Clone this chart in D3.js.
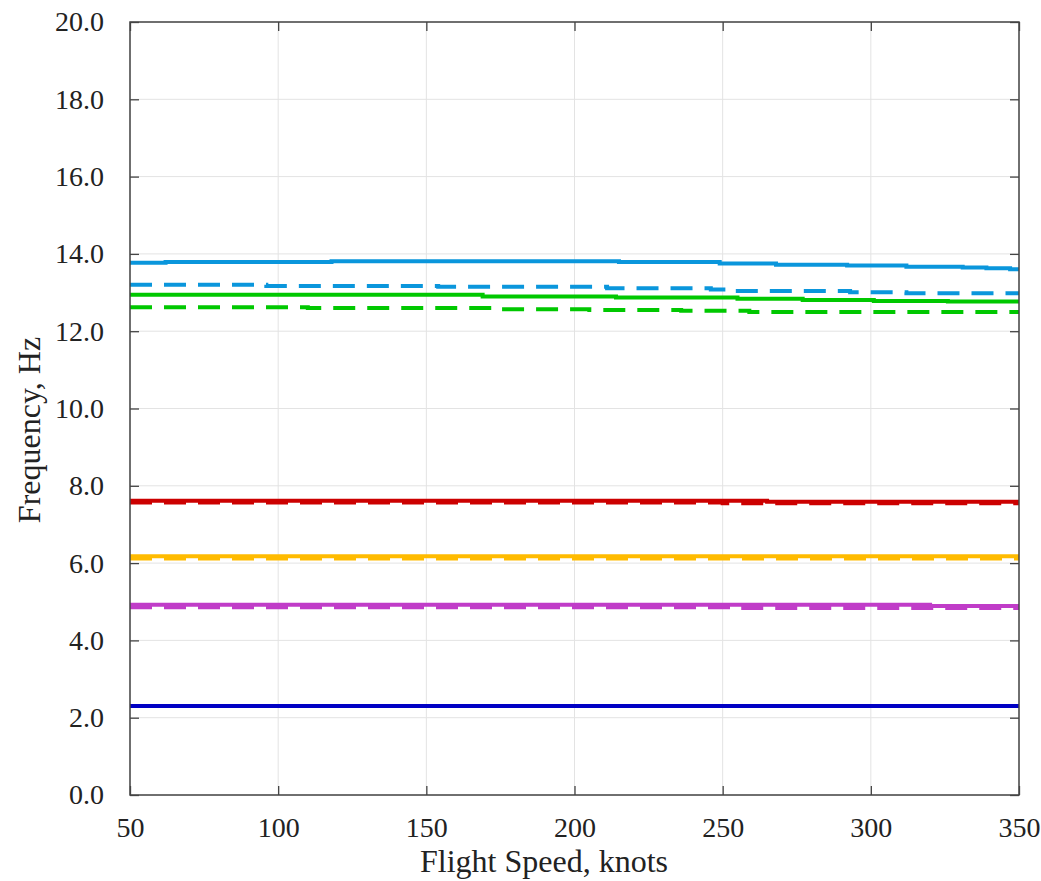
<!DOCTYPE html>
<html>
<head>
<meta charset="utf-8">
<script src="https://cdn.jsdelivr.net/npm/d3@7"></script>
<style>
  html, body { margin: 0; padding: 0; background: #fff; }
  svg { display: block; }
</style>
</head>
<body>
<svg id="chart" width="1041" height="881"></svg>
<script>
// ---- data ----
const xTicks = [50, 100, 150, 200, 250, 300, 350];
const yTicks = [0, 2, 4, 6, 8, 10, 12, 14, 16, 18, 20];

// each series: breakpoints in knots and frequency values (Hz), held constant until next breakpoint
const blueSolidX   = [50, 62, 118, 215, 249, 268, 292, 312, 331, 339, 347, 350];
const blueSolidY   = [13.77, 13.79, 13.81, 13.79, 13.75, 13.72, 13.70, 13.67, 13.65, 13.63, 13.60, 13.60];
const blueDashX    = [50, 96, 154, 211, 246, 254, 293, 312, 350];
const blueDashY    = [13.20, 13.17, 13.15, 13.11, 13.08, 13.04, 13.01, 12.98, 12.98];
const greenSolidX  = [50, 169, 214, 255, 277, 301, 326, 350];
const greenSolidY  = [12.94, 12.90, 12.87, 12.84, 12.81, 12.78, 12.77, 12.77];
const greenDashX   = [50, 110, 172, 205, 236, 259, 350];
const greenDashY   = [12.62, 12.60, 12.57, 12.55, 12.53, 12.50, 12.50];
const redSolidX    = [50, 265, 350];
const redSolidY    = [7.61, 7.59, 7.59];
const redDashX     = [50, 250, 350];
const redDashY     = [7.57, 7.55, 7.55];
const yellowSolidX = [50, 350];
const yellowSolidY = [6.18, 6.18];
const yellowDashX  = [50, 350];
const yellowDashY  = [6.12, 6.12];
const magSolidX    = [50, 320, 350];
const magSolidY    = [4.92, 4.89, 4.89];
const magDashX     = [50, 255, 350];
const magDashY     = [4.86, 4.84, 4.84];
const navySolidX   = [50, 350];
const navySolidY   = [2.30, 2.30];
const navyDashX    = [50, 350];
const navyDashY    = [2.30, 2.30];

const series = [
  { xs: navySolidX,   ys: navySolidY,   color: "#0000c4", dash: null },
  { xs: navyDashX,    ys: navyDashY,    color: "#0000c4", dash: "22,12" },
  { xs: magSolidX,    ys: magSolidY,    color: "#c03cc8", dash: null },
  { xs: magDashX,     ys: magDashY,     color: "#c03cc8", dash: "22,12" },
  { xs: yellowSolidX, ys: yellowSolidY, color: "#ffbb00", dash: null },
  { xs: yellowDashX,  ys: yellowDashY,  color: "#ffbb00", dash: "22,12" },
  { xs: redSolidX,    ys: redSolidY,    color: "#cc0000", dash: null },
  { xs: redDashX,     ys: redDashY,     color: "#cc0000", dash: "22,12" },
  { xs: greenSolidX,  ys: greenSolidY,  color: "#00c800", dash: null },
  { xs: greenDashX,   ys: greenDashY,   color: "#00c800", dash: "22,12" },
  { xs: blueSolidX,   ys: blueSolidY,   color: "#0a96dc", dash: null },
  { xs: blueDashX,    ys: blueDashY,    color: "#0a96dc", dash: "22,12" }
];

// ---- layout ----
const svg = d3.select("#chart");
const L = 130, R = 1019, T = 22, B = 795;
const x = d3.scaleLinear().domain([50, 350]).range([L, R]);
const y = d3.scaleLinear().domain([0, 20]).range([B, T]);
const font = "'Liberation Serif', 'Times New Roman', serif";

// grid
const g = svg.append("g");
g.selectAll("line.vg").data(xTicks).enter().append("line")
  .attr("x1", d => x(d)).attr("x2", d => x(d)).attr("y1", T).attr("y2", B)
  .attr("stroke", "#e3e3e3").attr("stroke-width", 1);
g.selectAll("line.hg").data(yTicks).enter().append("line")
  .attr("x1", L).attr("x2", R).attr("y1", d => y(d)).attr("y2", d => y(d))
  .attr("stroke", "#e3e3e3").attr("stroke-width", 1);

// lines
const clip = svg.append("clipPath").attr("id", "clip").append("rect")
  .attr("x", L).attr("y", T).attr("width", R - L).attr("height", B - T);
const line = d3.line().x(d => x(d[0])).y(d => y(d[1])).curve(d3.curveStepAfter);
const lg = svg.append("g").attr("clip-path", "url(#clip)");
series.forEach(s => {
  const pts = s.xs.map((v, i) => [v, s.ys[i]]);
  lg.append("path").datum(pts).attr("d", line)
    .attr("fill", "none").attr("stroke", s.color).attr("stroke-width", 4)
    .attr("stroke-dasharray", s.dash);
});

// axes with inward ticks
const ax = d3.axisBottom(x).tickValues(xTicks).tickSizeInner(-9).tickSizeOuter(0).tickFormat(d3.format("d")).tickPadding(22);
const axT = d3.axisTop(x).tickValues(xTicks).tickSizeInner(-9).tickSizeOuter(0).tickFormat("");
const ay = d3.axisLeft(y).tickValues(yTicks).tickSizeInner(-9).tickSizeOuter(0).tickFormat(d3.format(".1f")).tickPadding(26);
const ayR = d3.axisRight(y).tickValues(yTicks).tickSizeInner(-9).tickSizeOuter(0).tickFormat("");

function styleAxis(sel) {
  sel.select(".domain").remove();
  sel.selectAll(".tick line").attr("stroke", "#444").attr("stroke-width", 1.3);
  sel.selectAll(".tick text").attr("fill", "#222").style("font-family", font).style("font-size", "28px");
}
svg.append("g").attr("transform", `translate(0,${B})`).call(ax).call(styleAxis);
svg.append("g").attr("transform", `translate(0,${T})`).call(axT).call(styleAxis);
svg.append("g").attr("transform", `translate(${L},0)`).call(ay).call(styleAxis);
svg.append("g").attr("transform", `translate(${R},0)`).call(ayR).call(styleAxis);

// frame
svg.append("rect").attr("x", L).attr("y", T).attr("width", R - L).attr("height", B - T)
  .attr("fill", "none").attr("stroke", "#444").attr("stroke-width", 1.5);

// axis titles
svg.append("text").attr("x", 544).attr("y", 872).attr("text-anchor", "middle")
  .attr("fill", "#222").style("font-family", font).style("font-size", "32px")
  .text("Flight Speed, knots");
svg.append("text").attr("transform", "translate(40,430) rotate(-90)").attr("text-anchor", "middle")
  .attr("fill", "#222").style("font-family", font).style("font-size", "32px")
  .text("Frequency, Hz");
</script>
</body>
</html>
